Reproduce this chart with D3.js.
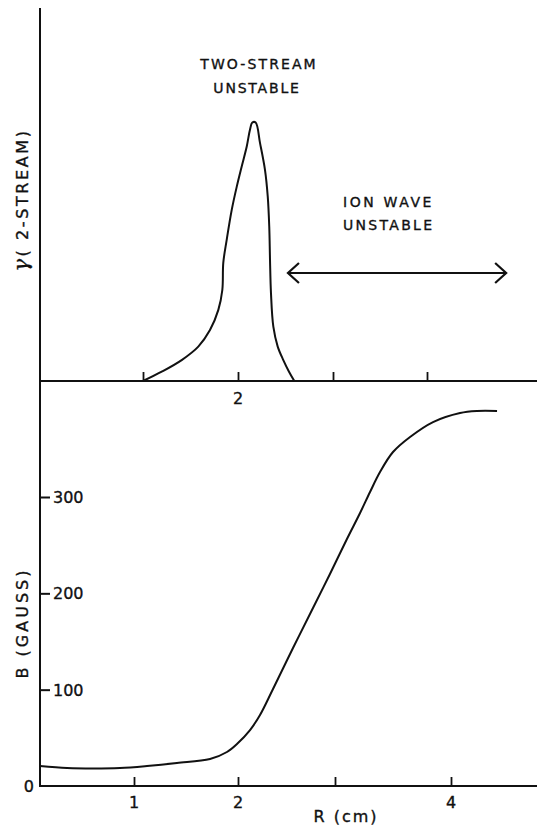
<!DOCTYPE html>
<html>
<head>
<meta charset="utf-8">
<script src="https://cdn.jsdelivr.net/npm/d3@7"></script>
<style>
  html, body { margin: 0; padding: 0; background: #fff; }
  svg { display: block; }
  text { font-family: "DejaVu Sans", sans-serif; fill: #111; stroke: #111; stroke-width: 0.35px; }
</style>
</head>
<body>
<svg id="chart" width="537" height="828"></svg>
<script>
// ---- Data ----
// Upper panel: two-stream growth rate (arbitrary units) vs R (cm)
const rTop = [1.0, 1.197, 1.407, 1.582, 1.705, 1.793, 1.835, 1.845, 1.881, 1.934, 1.987, 2.039, 2.092,
              2.126, 2.151, 2.186, 2.232, 2.284, 2.313, 2.329, 2.337, 2.347, 2.372, 2.418, 2.477, 2.537, 2.593];
const gammaTop = [0.0, 0.036, 0.081, 0.133, 0.197, 0.275, 0.352, 0.457, 0.546, 0.662, 0.752, 0.830, 0.907,
                  0.972, 1.0, 1.0, 0.920, 0.817, 0.714, 0.597, 0.468, 0.341, 0.210, 0.133, 0.081, 0.036, 0.0];
// Lower panel: magnetic field B (gauss) vs R (cm)
const rBot = [0.096, 0.356, 0.606, 0.865, 1.125, 1.413, 1.731, 1.894, 1.99, 2.124, 2.227, 2.361, 2.567,
              2.773, 2.948, 3.103, 3.216, 3.302, 3.388, 3.5, 3.647, 3.845, 4.078, 4.224, 4.397];
const bBot = [20.8, 18.7, 18.2, 18.7, 20.8, 23.9, 28.0, 35.3, 43.6, 58.1, 73.7, 100.7, 143.2,
              184.8, 220.1, 256.4, 283.4, 305.2, 325.9, 346.7, 362.3, 377.8, 387.2, 389.3, 389.3];
// Ticks
const topTicks = [1, 2, 3, 4];
const topTickLabels = ["", "2", "", ""];
const botTicks = [1, 2, 3, 4];
const botTickLabels = ["1", "2", "", "4"];
const bTicks = [100, 200, 300];
const bTickLabels = ["100", "200", "300"];
// Ion-wave unstable range (R, cm)
const ionRange = [2.526, 4.842];

// ---- Layout ----
const svg = d3.select("#chart");
const axisX = 40, topY0 = 381, botY0 = 786, right = 537, axisTop = 8;

// scales (hand-drawn figure: ticks not perfectly even, use piecewise scales)
const xTop = d3.scaleLinear().domain([1, 2, 3, 4]).range([143, 238, 333, 427]);
const yTop = d3.scaleLinear().domain([0, 1]).range([topY0, 122.5]);
const xBot = d3.scaleLinear().domain([1, 2, 3, 4]).range([134, 238, 335, 451]);
const yBot = d3.scaleLinear().domain([0, 300]).range([botY0, 497]);

const ink = "#111";
const g = svg.append("g");

// axes lines
g.append("line").attr("x1", axisX).attr("x2", axisX).attr("y1", axisTop).attr("y2", botY0 + 1)
  .attr("stroke", ink).attr("stroke-width", 2);
g.append("line").attr("x1", axisX).attr("x2", right).attr("y1", topY0).attr("y2", topY0)
  .attr("stroke", ink).attr("stroke-width", 2);
g.append("line").attr("x1", axisX - 1).attr("x2", right).attr("y1", botY0).attr("y2", botY0)
  .attr("stroke", ink).attr("stroke-width", 2);

// top x ticks (pointing up)
const topAxis = d3.axisTop(xTop).tickValues(topTicks).tickSize(9).tickFormat("");
g.append("g").attr("transform", `translate(0,${topY0})`).call(topAxis)
  .call(s => { s.select(".domain").remove(); s.selectAll("line").attr("stroke", ink).attr("stroke-width", 1.8); });
g.selectAll(".topLab").data(topTicks).enter().append("text")
  .attr("x", d => xTop(d)).attr("y", 404).attr("text-anchor", "middle")
  .style("font-size", "16px").text((d, i) => topTickLabels[i]);

// bottom x ticks (pointing up)
const botAxis = d3.axisTop(xBot).tickValues(botTicks).tickSize(9).tickFormat("");
g.append("g").attr("transform", `translate(0,${botY0})`).call(botAxis)
  .call(s => { s.select(".domain").remove(); s.selectAll("line").attr("stroke", ink).attr("stroke-width", 1.8); });
g.selectAll(".botLab").data(botTicks).enter().append("text")
  .attr("x", d => xBot(d)).attr("y", 808).attr("text-anchor", "middle")
  .style("font-size", "16px").text((d, i) => botTickLabels[i]);

// B axis ticks (pointing right) with labels
const bAxis = d3.axisRight(yBot).tickValues(bTicks).tickSize(10).tickFormat("");
g.append("g").attr("transform", `translate(${axisX},0)`).call(bAxis)
  .call(s => { s.select(".domain").remove(); s.selectAll("line").attr("stroke", ink).attr("stroke-width", 2); });
g.selectAll(".bLab").data(bTicks).enter().append("text")
  .attr("x", axisX + 13).attr("y", d => yBot(d) + 6)
  .style("font-size", "16px").text((d, i) => bTickLabels[i]);
g.append("text").attr("x", 34).attr("y", yBot(0) + 6).attr("text-anchor", "end")
  .style("font-size", "16px").text("0");

// curves
const lineTop = d3.line().x((d, i) => xTop(rTop[i])).y(d => yTop(d)).curve(d3.curveCatmullRom.alpha(0.5));
g.append("path").attr("d", lineTop(gammaTop)).attr("fill", "none").attr("stroke", ink).attr("stroke-width", 2);
const lineBot = d3.line().x((d, i) => xBot(rBot[i])).y(d => yBot(d)).curve(d3.curveCatmullRom.alpha(0.5));
g.append("path").attr("d", lineBot(bBot)).attr("fill", "none").attr("stroke", ink).attr("stroke-width", 2);

// ion wave double arrow
const ay = 273, ax1 = xTop(ionRange[0]), ax2 = xTop(ionRange[1]);
g.append("line").attr("x1", ax1).attr("x2", ax2).attr("y1", ay).attr("y2", ay)
  .attr("stroke", ink).attr("stroke-width", 2.2);
g.append("path").attr("d", `M${ax1 + 11},${ay - 10} L${ax1},${ay} L${ax1 + 11},${ay + 10}`)
  .attr("fill", "none").attr("stroke", ink).attr("stroke-width", 2.2);
g.append("path").attr("d", `M${ax2 - 11},${ay - 10} L${ax2},${ay} L${ax2 - 11},${ay + 10}`)
  .attr("fill", "none").attr("stroke", ink).attr("stroke-width", 2.2);

// annotations
const ann = (x, y, t, anchor, ls) => g.append("text").attr("x", x).attr("y", y)
  .attr("text-anchor", anchor || "middle").style("font-size", "14px").style("letter-spacing", (ls || 2.1) + "px").text(t);
ann(259, 69.3, "TWO-STREAM");
ann(257, 92.7, "UNSTABLE", "middle", 1.8);
ann(343, 207, "ION WAVE", "start", 2.6);
ann(343, 230, "UNSTABLE", "start", 2.3);

// axis titles
g.append("text").attr("transform", "translate(28,200) rotate(-90)").attr("text-anchor", "middle")
  .style("font-size", "16px").style("letter-spacing", "2.6px")
  .html('<tspan style="font-family:\'DejaVu Serif\',serif;font-style:italic;font-size:21px">γ</tspan>( 2-STREAM)');
g.append("text").attr("transform", "translate(28,623) rotate(-90)").attr("text-anchor", "middle")
  .style("font-size", "16px").style("letter-spacing", "3px").text("B (GAUSS)");
g.append("text").attr("x", 346).attr("y", 822).attr("text-anchor", "middle")
  .style("font-size", "16px").style("letter-spacing", "2px").text("R (cm)");
</script>
</body>
</html>
